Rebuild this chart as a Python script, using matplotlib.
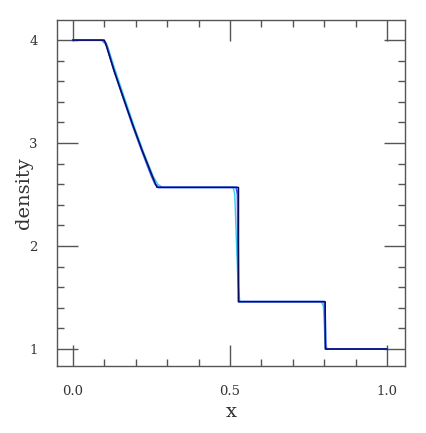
import matplotlib
matplotlib.use("Agg")
import matplotlib.pyplot as plt
from matplotlib.ticker import MultipleLocator

# exact solution
x_exact = [0.0, 0.1, 0.13, 0.16, 0.19, 0.22, 0.25, 0.267, 0.527, 0.527, 0.803, 0.803, 1.0]
rho_exact = [4.0, 4.0, 3.71, 3.44, 3.18, 2.93, 2.70, 2.57, 2.57, 1.46, 1.46, 1.0, 1.0]

# sharper numerical run
x_blue = [0.0, 0.095, 0.105, 0.13, 0.16, 0.19, 0.22, 0.25, 0.262, 0.272, 0.52, 0.524, 0.527,
          0.80, 0.802, 0.805, 1.0]
rho_blue = [4.0, 4.0, 3.97, 3.71, 3.44, 3.17, 2.92, 2.68, 2.60, 2.57, 2.57, 2.50, 1.46,
            1.46, 1.40, 1.0, 1.0]

# smoother numerical run
x_cyan = [0.0, 0.09, 0.11, 0.135, 0.165, 0.195, 0.225, 0.255, 0.27, 0.285, 0.51, 0.515, 0.525,
          0.531, 0.79, 0.797, 0.803, 0.81, 1.0]
rho_cyan = [4.0, 4.0, 3.94, 3.70, 3.43, 3.16, 2.91, 2.68, 2.60, 2.57, 2.57, 2.50, 1.65,
            1.46, 1.46, 1.42, 1.05, 1.0, 1.0]

txt = "#333333"
plt.rcParams["font.family"] = ["DejaVu Serif"]

fig = plt.figure(figsize=(4.27, 4.33), dpi=100)
ax = fig.add_axes([0.1335, 0.1547, 0.815, 0.799])

ax.plot(x_cyan, rho_cyan, color="#33ccee", lw=1.0)
ax.plot(x_blue, rho_blue, color="#3050ff", lw=1.4)
ax.plot(x_exact, rho_exact, color="#0a0a55", lw=1.0)

ax.set_xlim(-0.051, 1.057)
ax.set_ylim(0.835, 4.195)

ax.xaxis.set_major_locator(MultipleLocator(0.5))
ax.xaxis.set_minor_locator(MultipleLocator(0.1))
ax.yaxis.set_major_locator(MultipleLocator(1))
ax.yaxis.set_minor_locator(MultipleLocator(0.2))
ax.xaxis.set_major_formatter(plt.FormatStrFormatter("%.1f"))

ax.tick_params(which="both", direction="in", top=True, right=True, colors="#555555",
               labelcolor=txt, labelsize=9.5)
ax.tick_params(which="major", length=15, width=1)
ax.tick_params(which="minor", length=5, width=1)
ax.tick_params(axis="x", which="major", pad=14)
ax.tick_params(axis="y", which="major", pad=14)

for s in ax.spines.values():
    s.set_color("#555555")
    s.set_linewidth(1.0)

ax.set_xlabel("x", fontsize=14, color=txt, labelpad=3)
ax.set_ylabel("density", fontsize=14, color=txt, labelpad=-3)

fig.savefig("out.png", dpi=100)
